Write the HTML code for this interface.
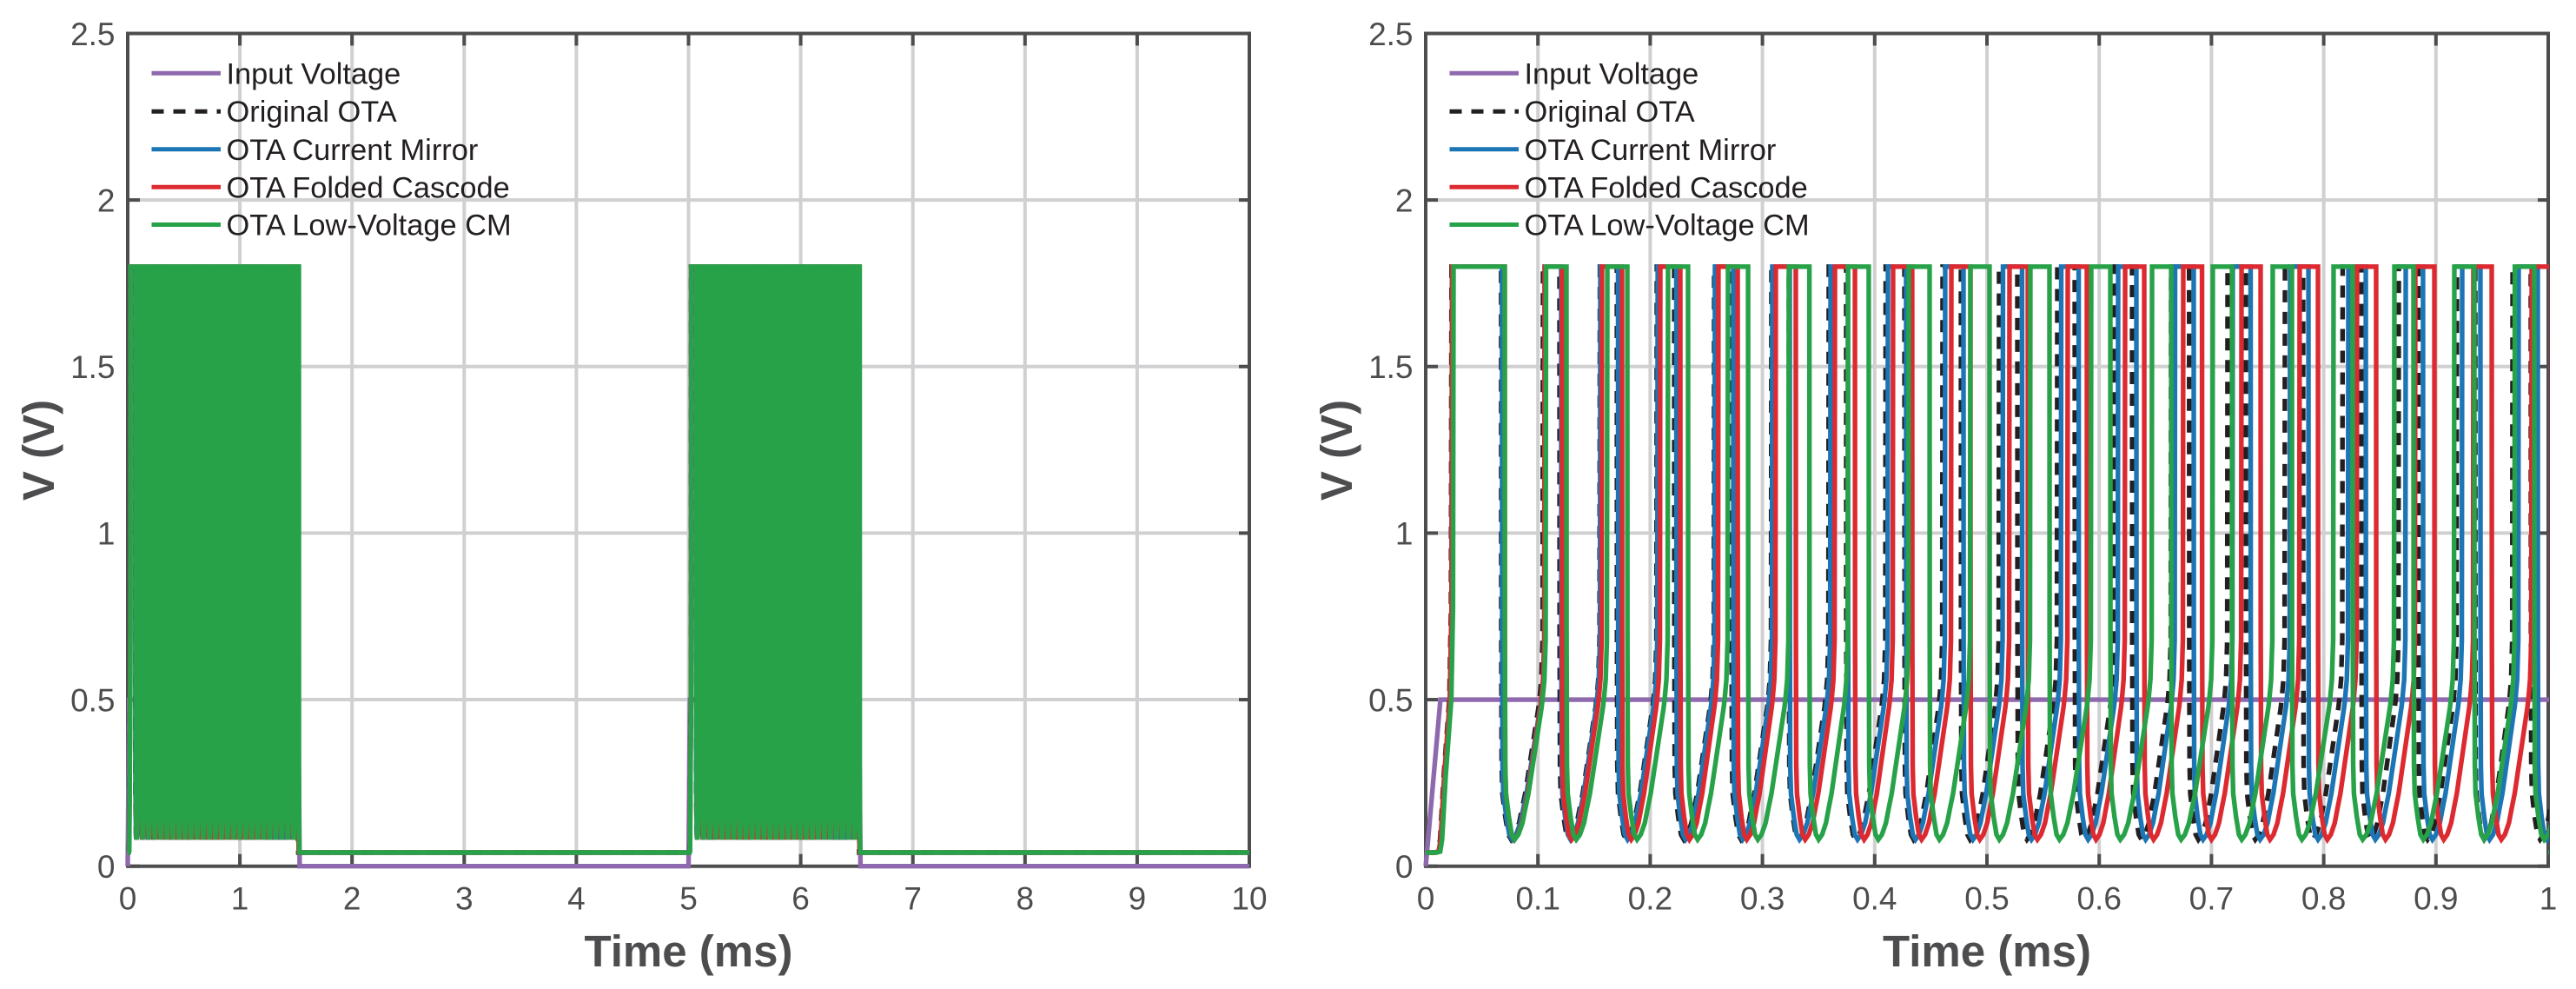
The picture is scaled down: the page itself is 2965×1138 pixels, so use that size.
<!DOCTYPE html>
<html lang="en">
<head>
<meta charset="utf-8">
<title>OTA transient response</title>
<style>
html,body{margin:0;padding:0;background:#fff;width:2965px;height:1138px;overflow:hidden}
svg{display:block}
text{font-family:"Liberation Sans",Arial,sans-serif}
.tick{font-size:37px;fill:#4d4d4f}
.title{font-size:51px;font-weight:bold;fill:#4d4d4f}
.leg{font-size:34.4px;fill:#231f20}
</style>
</head>
<body>
<svg xmlns="http://www.w3.org/2000/svg" width="2965" height="1138" viewBox="0 0 2965 1138">
  <defs>
    <clipPath id="clip-left"><rect x="143.5" y="39" width="1295.5" height="961"/></clipPath>
    <clipPath id="clip-right"><rect x="1637.5" y="39" width="1296.5" height="961"/></clipPath>
  </defs>
  <g id="panel-left"></g>
  <g id="panel-right"></g>
</svg>
<script>
// Shared chart data (times in ms, voltages in V)
const seriesNames = ['Input Voltage', 'Original OTA', 'OTA Current Mirror', 'OTA Folded Cascode', 'OTA Low-Voltage CM'];
const seriesKeys = ['input-voltage', 'original-ota', 'ota-current-mirror', 'ota-folded-cascode', 'ota-low-voltage-cm'];
const seriesColors = ['#8f69ae', '#231f20', '#1c75b5', '#dc2a30', '#27a249'];

const yTicks = [0, 0.5, 1, 1.5, 2, 2.5];
const yTickLabels = ['0', '0.5', '1', '1.5', '2', '2.5'];
const xTicksLeft = [0, 1, 2, 3, 4, 5, 6, 7, 8, 9, 10];
const xTickLabelsLeft = ['0', '1', '2', '3', '4', '5', '6', '7', '8', '9', '10'];
const xTicksRight = [0, 0.1, 0.2, 0.3, 0.4, 0.5, 0.6, 0.7, 0.8, 0.9, 1];
const xTickLabelsRight = ['0', '0.1', '0.2', '0.3', '0.4', '0.5', '0.6', '0.7', '0.8', '0.9', '1'];

// Input voltage waveform
const inputTimes = [0, 0.0131, 1.52, 1.533, 5, 5.0131, 6.52, 6.533, 10];
const inputVolts = [0, 0.5, 0.5, 0, 0, 0.5, 0.5, 0, 0];

// Comparator output pulses: rising and falling edge times
const originalRises = [0.023, 0.1045, 0.1552, 0.2059, 0.257, 0.308, 0.3591, 0.4098, 0.4605, 0.5108, 0.5627, 0.6135, 0.6641, 0.7144, 0.7655, 0.8169, 0.8669, 0.9187, 0.9683, 1.019, 1.07, 1.121, 1.172, 1.223, 1.274, 1.325, 1.376, 1.427, 1.478, 1.5];
const originalFalls = [0.0672, 0.1192, 0.1703, 0.2214, 0.2724, 0.3235, 0.3746, 0.4265, 0.4768, 0.5271, 0.5782, 0.6293, 0.6801, 0.7307, 0.7817, 0.8336, 0.8843, 0.935, 0.9845, 1.035, 1.086, 1.137, 1.188, 1.239, 1.29, 1.341, 1.392, 1.443, 1.494, 1.515];
const mirrorRises = [0.0235, 0.106, 0.1556, 0.2067, 0.2577, 0.3088, 0.3607, 0.4118, 0.4628, 0.5143, 0.5662, 0.6169, 0.6676, 0.719, 0.7701, 0.822, 0.8731, 0.9234, 0.9737, 1.0247, 1.0757, 1.1267, 1.1777, 1.2287, 1.2797, 1.3307, 1.3817, 1.4327, 1.4837, 1.505];
const mirrorFalls = [0.068, 0.1207, 0.1714, 0.2233, 0.274, 0.3243, 0.3762, 0.428, 0.4791, 0.5313, 0.5817, 0.6331, 0.6842, 0.7349, 0.7864, 0.8375, 0.8885, 0.9396, 0.9907, 1.0407, 1.0917, 1.1427, 1.1937, 1.2447, 1.2957, 1.3467, 1.3977, 1.4487, 1.4997, 1.52];
const foldedRises = [0.0235, 0.106, 0.1571, 0.209, 0.2608, 0.3119, 0.3646, 0.4164, 0.4683, 0.5201, 0.572, 0.6231, 0.6749, 0.7268, 0.7786, 0.8297, 0.8816, 0.9334, 0.9853, 1.037, 1.0888, 1.1406, 1.1924, 1.2442, 1.296, 1.3478, 1.3996, 1.4514, 1.5032];
const foldedFalls = [0.0704, 0.1215, 0.1749, 0.2268, 0.2779, 0.3297, 0.3824, 0.4334, 0.4853, 0.5364, 0.589, 0.6401, 0.6916, 0.7438, 0.7949, 0.8467, 0.8986, 0.9497, 1.0025, 1.054, 1.1058, 1.1576, 1.2094, 1.2612, 1.313, 1.3648, 1.4166, 1.4684, 1.5202];
const lowVoltRises = [0.0248, 0.1072, 0.1618, 0.2159, 0.2693, 0.3235, 0.3762, 0.4303, 0.4853, 0.5387, 0.5929, 0.6471, 0.7012, 0.7546, 0.8088, 0.863, 0.9164, 0.9703, 1.0243, 1.0781, 1.1319, 1.1857, 1.2395, 1.2933, 1.3471, 1.4009, 1.4547, 1.5085];
const lowVoltFalls = [0.0704, 0.1254, 0.1796, 0.2337, 0.2872, 0.3418, 0.3947, 0.4489, 0.5023, 0.5557, 0.6099, 0.6641, 0.7183, 0.7717, 0.8258, 0.88, 0.9342, 0.9876, 1.0416, 1.0954, 1.1492, 1.203, 1.2568, 1.3106, 1.3644, 1.4182, 1.472, 1.526];

// Shape of the output between pulses
const lowPhase = [0.003, 0.012, 0.03, 0.10, 0.17, 0.24, 0.33, 0.43, 0.50, 0.574, 0.68, 0.787, 0.894, 0.915, 0.96, 0.99];
const lowVolts = [0.7, 0.304, 0.218, 0.148, 0.095, 0.08, 0.095, 0.13, 0.174, 0.218, 0.304, 0.391, 0.478, 0.5, 0.56, 0.68];
const highVolt = [1.8];
const idleVolt = [0.041];
const startDelays = [-0.015, -0.0119, -0.0102, -0.007, -0.002, -0.0005];
const startVolts = [0.041, 0.044, 0.08, 0.27, 0.5, 0.77];
const endDelays = [0.0008, 0.003, 0.006];
const endVolts = [0.3, 0.07, 0.041];
const burstStarts = [0, 5];

const SVG_NS = 'http://www.w3.org/2000/svg';
const yBottom = 996.7;
const yTop = 38.5;
function yScale(v) { return yBottom - v * (yBottom - yTop) / 2.5; }

function line(parent, x1, y1, x2, y2, color, width, name) {
  const el = document.createElementNS(SVG_NS, 'line');
  el.setAttribute('x1', x1);
  el.setAttribute('y1', y1);
  el.setAttribute('x2', x2);
  el.setAttribute('y2', y2);
  el.setAttribute('stroke', color);
  el.setAttribute('stroke-width', width);
  
  
  parent.appendChild(el);
  return el;
}

function label(parent, x, y, str, cls, anchor, name, transform) {
  const el = document.createElementNS(SVG_NS, 'text');
  el.setAttribute('x', x);
  el.setAttribute('y', y);
  el.setAttribute('class', cls);
  el.setAttribute('text-anchor', anchor);
  if (transform) el.setAttribute('transform', transform);
  
  
  el.textContent = str;
  parent.appendChild(el);
  return el;
}

function burstPoints(rises, falls, offset) {
  const pts = [];
  const firstRise = rises[0];
  startDelays.forEach((d, i) => pts.push([offset + Math.max(0, firstRise + d), startVolts[i]]));
  rises.forEach((r, i) => {
    const f = falls[i];
    pts.push([offset + r, highVolt[0]]);
    pts.push([offset + f, highVolt[0]]);
    if (i + 1 < rises.length) {
      const span = rises[i + 1] - f;
      lowPhase.forEach((p, k) => pts.push([offset + f + p * span, lowVolts[k]]));
    } else {
      endDelays.forEach((d, k) => pts.push([offset + f + d, endVolts[k]]));
    }
  });
  return pts;
}

function outputPoints(rises, falls, bursts, xEnd) {
  let pts = [[0, startVolts[0]]];
  bursts.forEach(b => { pts = pts.concat(burstPoints(rises, falls, b)); });
  pts.push([xEnd, idleVolt[0]]);
  return pts;
}

function inputPoints() {
  return inputTimes.map((t, i) => [t, inputVolts[i]]);
}

function drawSeries(parent, pts, xScale, color, dash, name, clipId) {
  const el = document.createElementNS(SVG_NS, 'path');
  const d = pts.map((p, i) => (i ? 'L' : 'M') + xScale(p[0]).toFixed(2) + ' ' + yScale(p[1]).toFixed(2)).join('');
  el.setAttribute('d', d);
  el.setAttribute('fill', 'none');
  el.setAttribute('stroke', color);
  el.setAttribute('stroke-width', '5.4');
  el.setAttribute('stroke-linejoin', 'miter');
  el.setAttribute('clip-path', 'url(#' + clipId + ')');
  if (dash) el.setAttribute('stroke-dasharray', dash);
  
  
  parent.appendChild(el);
}

function drawPanel(cfg) {
  const g = document.getElementById(cfg.id);
  const xs = cfg.xScale;
  const left = xs(cfg.xMin);
  const right = xs(cfg.xMax);
  const gridColor = '#d0d0d2';
  const axisColor = '#4d4d4f';

  cfg.xTicks.forEach(t => {
    if (t > cfg.xMin && t < cfg.xMax) line(g, xs(t), yTop, xs(t), yBottom, gridColor, 4, 'x-gridline');
  });
  yTicks.forEach(v => {
    if (v > 0 && v < 2.5) line(g, left, yScale(v), right, yScale(v), gridColor, 4, 'y-gridline');
  });

  line(g, left - 2, yTop, right + 2, yTop, axisColor, 4, 'top-axis-line');
  line(g, left - 2, yBottom, right + 2, yBottom, axisColor, 4, 'x-axis-line');
  line(g, left, yTop, left, yBottom, axisColor, 4, 'y-axis-line');
  line(g, right, yTop, right, yBottom, axisColor, 4, 'right-axis-line');

  cfg.xTicks.forEach((t, i) => {
    line(g, xs(t), yBottom, xs(t), yBottom - 14, axisColor, 4, 'x-tick-mark');
    line(g, xs(t), yTop, xs(t), yTop + 14, axisColor, 4, 'top-tick-mark');
    label(g, xs(t), 1046.5, cfg.xLabels[i], 'tick', 'middle', 'x-tick-label');
  });
  yTicks.forEach((v, i) => {
    line(g, left, yScale(v), left + 14, yScale(v), axisColor, 4, 'y-tick-mark');
    line(g, right, yScale(v), right - 12, yScale(v), axisColor, 4, 'right-tick-mark');
    label(g, left - 14.5, yScale(v) + 13.3, yTickLabels[i], 'tick', 'end', 'y-tick-label');
  });

  drawSeries(g, inputPoints(), xs, seriesColors[0], null, seriesKeys[0] + '-line', cfg.clip);
  drawSeries(g, outputPoints(originalRises, originalFalls, cfg.bursts, cfg.xMax), xs, seriesColors[1], '14 11', seriesKeys[1] + '-line', cfg.clip);
  drawSeries(g, outputPoints(mirrorRises, mirrorFalls, cfg.bursts, cfg.xMax), xs, seriesColors[2], null, seriesKeys[2] + '-line', cfg.clip);
  drawSeries(g, outputPoints(foldedRises, foldedFalls, cfg.bursts, cfg.xMax), xs, seriesColors[3], null, seriesKeys[3] + '-line', cfg.clip);
  drawSeries(g, outputPoints(lowVoltRises, lowVoltFalls, cfg.bursts, cfg.xMax), xs, seriesColors[4], null, seriesKeys[4] + '-line', cfg.clip);

  label(g, (left + right) / 2, 1112, 'Time (ms)', 'title', 'middle', 'x-axis-title');
  const yLabelX = left - 85;
  label(g, yLabelX, 518, 'V (V)', 'title', 'middle', 'y-axis-title', 'rotate(-90 ' + yLabelX + ' 518)');

  const legendLineY = [84.3, 128.3, 171.8, 215.3, 258.5];
  const legendTextY = [96.7, 140, 184, 227.5, 270.7];
  seriesNames.forEach((n, i) => {
    const entry = document.createElementNS(SVG_NS, 'g');
    
    
    g.appendChild(entry);
    const sw = line(entry, left + 27.5, legendLineY[i], left + 107, legendLineY[i], seriesColors[i], 5, 'legend-swatch');
    if (i === 1) sw.setAttribute('stroke-dasharray', '14 11');
    label(entry, left + 113.5, legendTextY[i], n, 'leg', 'start', 'legend-label');
  });
}

drawPanel({
  id: 'panel-left',
  clip: 'clip-left',
  xMin: 0,
  xMax: 10,
  xScale: t => 147 + t * 129.1,
  xTicks: xTicksLeft,
  xLabels: xTickLabelsLeft,
  bursts: burstStarts
});
drawPanel({
  id: 'panel-right',
  clip: 'clip-right',
  xMin: 0,
  xMax: 1,
  xScale: t => 1641 + t * 1292,
  xTicks: xTicksRight,
  xLabels: xTickLabelsRight,
  bursts: [burstStarts[0]]
});
</script>
</body>
</html>
